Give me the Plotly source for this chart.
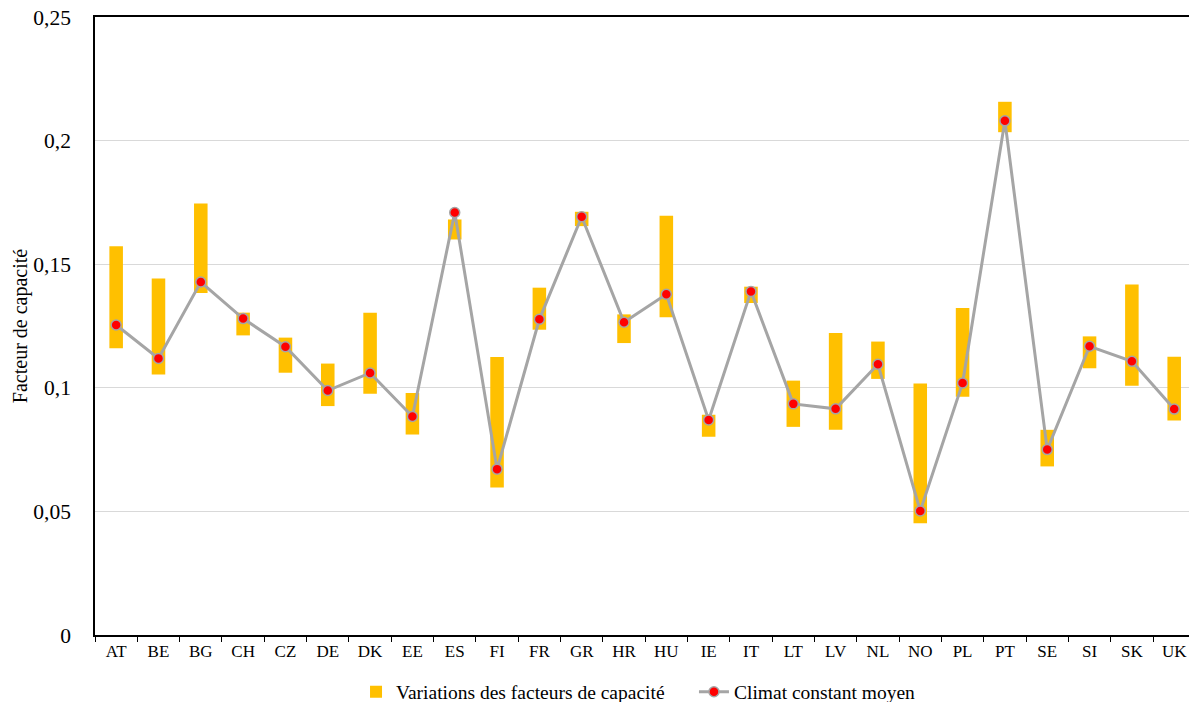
import plotly.graph_objects as go

# Pays
pays = ["AT", "BE", "BG", "CH", "CZ", "DE", "DK", "EE", "ES", "FI", "FR", "GR", "HR",
        "HU", "IE", "IT", "LT", "LV", "NL", "NO", "PL", "PT", "SE", "SI", "SK", "UK"]

# Facteurs de capacité : minimum, maximum et climat constant moyen
fc_min = [0.1160, 0.1054, 0.1384, 0.1212, 0.1061, 0.0926, 0.0976, 0.0811, 0.1600,
          0.0597, 0.1235, 0.1654, 0.1181, 0.1285, 0.0802, 0.1343, 0.0842, 0.0830,
          0.1036, 0.0452, 0.0964, 0.2034, 0.0682, 0.1079, 0.1008, 0.0868]
fc_max = [0.1573, 0.1442, 0.1746, 0.1304, 0.1203, 0.1098, 0.1304, 0.0979, 0.1681,
          0.1125, 0.1405, 0.1712, 0.1297, 0.1696, 0.0891, 0.1409, 0.1029, 0.1222,
          0.1187, 0.1017, 0.1323, 0.2157, 0.0830, 0.1208, 0.1418, 0.1126]
fc_moyen = [0.1254, 0.1119, 0.1428, 0.1280, 0.1166, 0.0989, 0.1060, 0.0884, 0.1709,
            0.0671, 0.1277, 0.1692, 0.1265, 0.1378, 0.0870, 0.1390, 0.0935, 0.0915,
            0.1095, 0.0502, 0.1019, 0.2080, 0.0750, 0.1168, 0.1107, 0.0914]

y_ticks = [0, 0.05, 0.1, 0.15, 0.2, 0.25]
y_labels = ["0", "0,05", "0,1", "0,15", "0,2", "0,25"]

police = "Liberation Serif, Times New Roman, serif"

fig = go.Figure()

# Barres flottantes min -> max
fig.add_trace(go.Bar(
    x=pays,
    y=[hi - lo for lo, hi in zip(fc_min, fc_max)],
    base=fc_min,
    width=0.32,
    marker=dict(color="#FFC000", line=dict(width=0)),
    name="Variations des facteurs de capacité",
    legend="legend",
))

# Ligne du climat constant moyen
fig.add_trace(go.Scatter(
    x=pays,
    y=fc_moyen,
    mode="lines+markers",
    line=dict(color="#A5A5A5", width=3),
    marker=dict(color="#FF0000", size=10, line=dict(color="#A5A5A5", width=1.5)),
    name="Climat constant moyen",
    legend="legend2",
))

fig.update_layout(
    width=1189,
    height=702,
    margin=dict(l=95, r=0, t=17, b=67),
    paper_bgcolor="white",
    plot_bgcolor="white",
    font=dict(family=police, size=17, color="#000000"),
    showlegend=True,
    legend=dict(
        orientation="h",
        x=0.2386, xanchor="left",
        yref="container", y=0.0142, yanchor="middle",
        font=dict(size=19.5),
        itemwidth=30,
    ),
    legend2=dict(
        orientation="h",
        x=0.5475, xanchor="left",
        yref="container", y=0.0142, yanchor="middle",
        font=dict(size=19.5),
        itemwidth=30,
    ),
)

fig.update_xaxes(
    range=[-0.5, 25.35],
    automargin=False,
    showline=True, linecolor="black", linewidth=1.5, mirror=True,
    ticks="outside", tickson="boundaries", ticklen=5, tickcolor="black",
    showgrid=False,
    tickfont=dict(size=17),
    ticklabeloverflow="allow",
)

fig.update_yaxes(
    range=[0, 0.25],
    automargin=False,
    tickvals=y_ticks, ticktext=y_labels,
    showline=True, linecolor="black", linewidth=1.5,
    showgrid=True, gridcolor="#D9D9D9", gridwidth=1,
    zeroline=False,
    ticks="", ticklabelstandoff=18,
    tickfont=dict(size=21.5),
    ticklabeloverflow="allow",
    title=dict(text="Facteur de capacité", font=dict(size=20), standoff=0),
)

# pas de marge autour du graphique dans la page, pas de barre d'outils
fig.write_html("out.html", config={"displayModeBar": False},
               post_script="document.body.style.margin = '0';")
